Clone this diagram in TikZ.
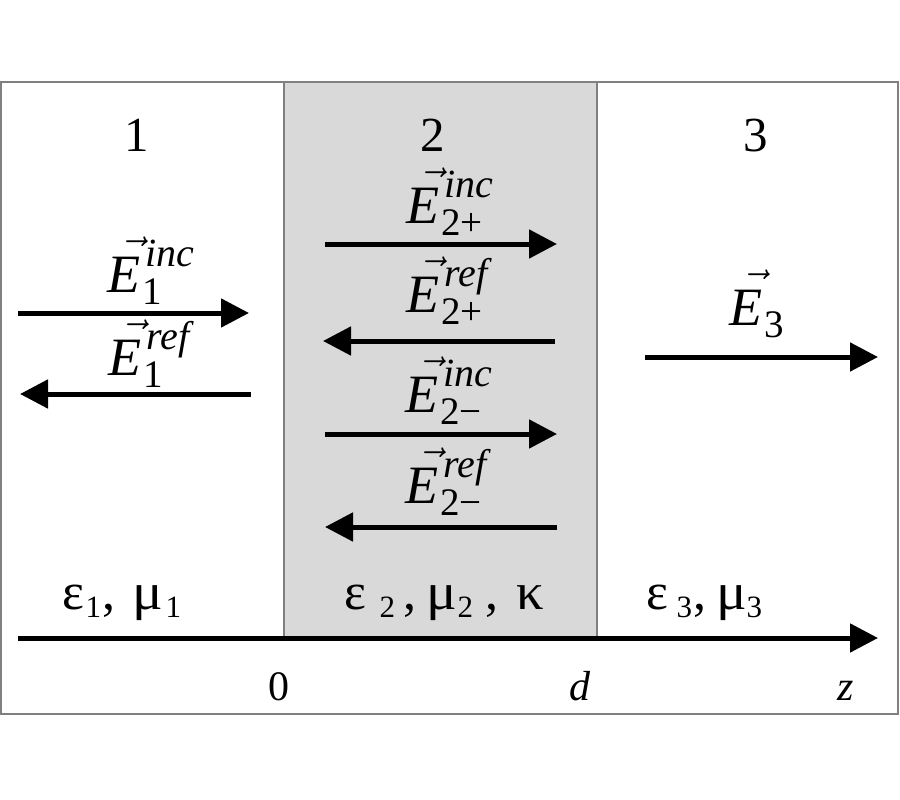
\documentclass[tikz,border=0pt]{standalone}
\usepackage{fix-cm}
\usepackage{graphicx}
\usepackage{fontspec}
\setmainfont{Liberation Serif}
\usetikzlibrary{arrows.meta}
\newcommand\vecE{\makebox[0pt][l]{\hspace{10pt}\raisebox{20pt}{\fontsize{50}{50}\selectfont$\mathchar"017E$}}\textit{E}}
\newcommand\EV[2]{\vecE\hspace{2pt}\rlap{\hspace{3pt}\raisebox{26pt}{\fontsize{40}{40}\selectfont\itshape #2}}\raisebox{-12pt}{\fontsize{39}{39}\selectfont #1}}
\newcommand\EVs[1]{\vecE\hspace{2pt}\raisebox{-12pt}{\fontsize{39}{39}\selectfont #1}}
\newcommand\sbs[1]{\raisebox{-8pt}{\fontsize{31}{31}\selectfont #1}}
\newcommand\at[2]{\rlap{\hspace{#1pt}#2}}
\newcommand\geps{ε}
\newcommand\gmu{\scalebox{1.1}[1]{μ}}
\newcommand\gkap{\scalebox{1.05}[1]{κ}}
\definecolor{slab}{RGB}{217,217,217}
\definecolor{frame}{RGB}{128,128,128}
\tikzset{
  wave/.style={line width=5pt,-{Triangle[length=28pt,width=28pt]}},
  elabel/.style={anchor=base west,inner sep=0pt,font=\fontsize{54}{60}\selectfont},
  region/.style={anchor=base,inner sep=0pt,font=\fontsize{49}{58}\selectfont},
  medium/.style={anchor=base west,inner sep=0pt,font=\fontsize{52}{60}\selectfont},
  axlabel/.style={anchor=base,inner sep=0pt,font=\fontsize{42}{50}\selectfont},
}
\begin{document}
\begin{tikzpicture}[x=1pt,y=-1pt]
\useasboundingbox (0,0) rectangle (900,800);
\fill[white] (0,0) rectangle (900,800);
\draw[frame,line width=1.5pt] (1,82) rectangle (898,714);
\draw[frame,fill=slab,line width=1.2pt] (284,82) rectangle (597,637);
% region numbers
\node[region] (r1) at (137,151) {1};
\node[region] (r2) at (433,151) {2};
\node[region] (r3) at (756,151) {3};
% arrow end coordinates
\coordinate (a1s) at (18,313);  \coordinate (a1e) at (249,313);
\coordinate (b1s) at (251,394); \coordinate (b1e) at (20,394);
\coordinate (a2s) at (325,244); \coordinate (a2e) at (557,244);
\coordinate (b2s) at (555,341); \coordinate (b2e) at (323,341);
\coordinate (c2s) at (325,434); \coordinate (c2e) at (557,434);
\coordinate (d2s) at (557,527); \coordinate (d2e) at (325,527);
\coordinate (a3s) at (645,357); \coordinate (a3e) at (878,357);
\coordinate (zs) at (18,638);   \coordinate (ze) at (878,638);
\draw[wave] (a1s) -- (a1e);
\draw[wave] (b1s) -- (b1e);
\draw[wave] (a2s) -- (a2e);
\draw[wave] (b2s) -- (b2e);
\draw[wave] (c2s) -- (c2e);
\draw[wave] (d2s) -- (d2e);
\draw[wave] (a3s) -- (a3e);
\draw[wave] (zs) -- (ze);
% field labels
\node[elabel] (e1i) at (107,292) {\EV{1}{inc}};
\node[elabel] (e1r) at (108,375) {\EV{1}{ref}};
\node[elabel] (e2pi) at (406,223) {\EV{2+}{inc}};
\node[elabel] (e2pr) at (406,312) {\EV{2+}{ref}};
\node[elabel] (e2mi) at (405,412) {\EV{2−}{inc}};
\node[elabel] (e2mr) at (405,503) {\EV{2−}{ref}};
\node[elabel] (e3) at (729,325) {\EVs{3}};
% media
\node[medium] (m1) at (62,609) {\at{0}{\geps}\at{23}{\sbs{1}}\at{40}{,}\at{70}{\gmu}\at{103}{\sbs{1}}\hspace{120pt}};
\node[medium] (m2) at (344,609) {\at{0}{\geps}\at{35}{\sbs{2}}\at{59}{,}\at{82}{\gmu}\at{113}{\sbs{2}}\at{141}{,}\at{172}{\gkap}\hspace{200pt}};
\node[medium] (m3) at (646,609) {\at{0}{\geps}\at{30}{\sbs{3}}\at{47}{,}\at{70}{\gmu}\at{100}{\sbs{3}}\hspace{114pt}};
% axis labels
\node[axlabel] (l0) at (279,700) {0};
\node[axlabel] (ld) at (580,700) {\textit{d}};
\node[axlabel] (lz) at (846,700) {\textit{z}};
\end{tikzpicture}
\end{document}
